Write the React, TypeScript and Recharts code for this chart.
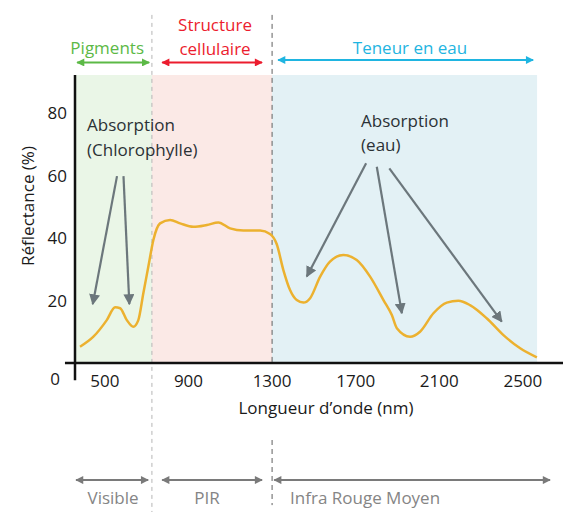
import React from 'react';
import {
  LineChart,
  Line,
  XAxis,
  YAxis,
  ReferenceArea,
  ReferenceLine,
  ReferenceDot,
} from 'recharts';

// reflectance spectrum of a leaf
const wavelengthNm = [
  381, 445, 509, 549, 573, 605, 636, 660, 684, 708, 732, 764, 812, 860, 923, 988, 1043, 1099,
  1163, 1243, 1290, 1322, 1354, 1386, 1418, 1450, 1482, 1530, 1577, 1641, 1705, 1769, 1833,
  1873, 1897, 1960, 2008, 2072, 2136, 2191, 2247, 2327, 2407, 2487, 2567,
];
const reflectancePct = [
  5.2, 8.4, 13.7, 17.8, 17.5, 13.7, 11.6, 13.7, 22.3, 30.8, 39.3, 44.6, 45.7, 44.6, 43.5, 44.1,
  44.9, 43.0, 42.3, 42.3, 41.2, 38, 29.7, 23.3, 20.1, 19.3, 20.7, 27.6, 32.4, 34.5, 32.9, 27.6,
  20.1, 15.3, 11.1, 8.4, 10, 15.9, 19.3, 19.9, 18.5, 14.3, 8.9, 4.7, 1.8,
];

const xTicks = [500, 900, 1300, 1700, 2100, 2500];
const yTicks = [0, 20, 40, 60, 80];

const X_MIN = 357;
const X_MAX = 2692;
const Y_MAX = 92;

// shaded domains
const bandStarts = [X_MIN, 725, 1300];
const bandEnds = [725, 1300, 2568];
const bandFills = ['#eaf6e7', '#fbe9e6', '#e3f1f5'];

// labels above the plot
const topLabels = ['Pigments', 'Structure', 'cellulaire', 'Teneur en eau'];
const topLabelX = [511, 1027, 1027, 1960];
const topLabelY = [100.6, 108, 100.3, 100.6];
const topLabelColors = ['#5cb946', '#ec1c2e', '#ec1c2e', '#1fb5e1'];

const topArrowFrom = [367, 774, 1329];
const topArrowTo = [712, 1252, 2549];
const topArrowY = [96.0, 96.0, 96.8];
const topArrowColors = ['green', 'red', 'cyan'];

// labels below the plot
const bottomLabels = ['Visible', 'PIR', 'Infra Rouge Moyen'];
const bottomLabelX = [539, 989, 1745];
const bottomArrowFrom = [362, 774, 1310];
const bottomArrowTo = [707, 1252, 2630];

// absorption call-outs
const noteLines = ['Absorption', '(Chlorophylle)', 'Absorption', '(eau)'];
const noteX = [415, 415, 1726, 1726];
const noteY = [76.0, 68.0, 77.3, 69.6];

const pointerFrom = [
  { x: 558, y: 59.7 },
  { x: 589, y: 59.7 },
  { x: 1750, y: 63.8 },
  { x: 1801, y: 62.7 },
  { x: 1861, y: 62.2 },
];
const pointerTo = [
  { x: 442, y: 18.8 },
  { x: 617, y: 18.8 },
  { x: 1466, y: 27.6 },
  { x: 1921, y: 15.9 },
  { x: 2399, y: 13.2 },
];

const data = wavelengthNm.map((nm, i) => ({ nm, r: reflectancePct[i] }));

const markerColors: Record<string, string> = {
  green: '#5cb946',
  red: '#ec1c2e',
  cyan: '#1fb5e1',
  grey: '#7a7a7a',
  slate: '#6c777c',
};

const FONT = "'Open Sans', 'Noto Sans', sans-serif";

const YTick = (props: any) => {
  const { x, y, payload } = props;
  if (payload.value === 0) {
    return (
      <text x={x - 7} y={y + 15} textAnchor="end" dominantBaseline="central" fontSize={17} fill="#1a1a1a">
        0
      </text>
    );
  }
  return (
    <text x={x} y={y} textAnchor="end" dominantBaseline="central" fontSize={17} fill="#1a1a1a">
      {payload.value}
    </text>
  );
};

export default function App() {
  return (
    <div style={{ width: 563, height: 512, fontFamily: FONT, position: 'relative' }}>
      <style>{'body{margin:0}'}</style>
      <svg width={0} height={0} style={{ position: 'absolute' }}>
        <defs>
          {Object.keys(markerColors).map((id) => (
            <marker
              key={id}
              id={`ah-${id}`}
              viewBox="0 0 10 10"
              refX={9}
              refY={5}
              markerWidth={id === 'slate' ? 11 : 9}
              markerHeight={id === 'slate' ? 11 : 8}
              markerUnits="userSpaceOnUse"
              orient="auto-start-reverse"
            >
              <path d="M0,0 L10,5 L0,10 z" fill={markerColors[id]} />
            </marker>
          ))}
        </defs>
      </svg>
      <LineChart width={563} height={512} data={data} margin={{ top: 75, right: 0, bottom: 119, left: 15 }}>
        {bandStarts.map((s, i) => (
          <ReferenceArea
            key={`band-${i}`}
            x1={s}
            x2={bandEnds[i]}
            y1={0}
            y2={Y_MAX}
            fill={bandFills[i]}
            fillOpacity={1}
            stroke="none"
            ifOverflow="visible"
          />
        ))}
        <XAxis
          type="number"
          dataKey="nm"
          domain={[X_MIN, X_MAX]}
          ticks={xTicks}
          allowDataOverflow
          axisLine={false}
          tickLine={false}
          tickSize={0}
          tickMargin={12}
          height={30}
          tick={{ fontSize: 17, fill: '#1a1a1a' }}
        />
        <YAxis
          type="number"
          domain={[0, Y_MAX]}
          ticks={yTicks}
          allowDataOverflow
          axisLine={false}
          tickLine={false}
          tickSize={0}
          tickMargin={8}
          width={60}
          tick={<YTick />}
        />
        {/* domain separators */}
        <ReferenceLine
          segment={[{ x: 725, y: 111.2 }, { x: 725, y: -47.6 }]}
          stroke="#b5b5b5"
          strokeDasharray="4 4"
          ifOverflow="visible"
        />
        <ReferenceLine
          segment={[{ x: 1300, y: 111.2 }, { x: 1300, y: 0 }]}
          stroke="#5f5f5f"
          strokeDasharray="5 4"
          ifOverflow="visible"
        />
        <ReferenceLine
          segment={[{ x: 1300, y: -24.6 }, { x: 1300, y: -45.4 }]}
          stroke="#5f5f5f"
          strokeDasharray="5 4"
          ifOverflow="visible"
        />
        {/* axes */}
        <ReferenceLine
          segment={[{ x: 309, y: 0 }, { x: X_MAX, y: 0 }]}
          stroke="#111"
          strokeWidth={2.5}
          ifOverflow="visible"
        />
        <ReferenceLine
          segment={[{ x: X_MIN, y: Y_MAX }, { x: X_MIN, y: -5.5 }]}
          stroke="#111"
          strokeWidth={2.5}
          ifOverflow="visible"
        />
        <Line
          type="monotone"
          dataKey="r"
          stroke="#ecb12f"
          strokeWidth={2.5}
          dot={false}
          isAnimationActive={false}
        />
        {topArrowFrom.map((f, i) => (
          <ReferenceLine
            key={`ta-${i}`}
            segment={[{ x: f, y: topArrowY[i] }, { x: topArrowTo[i], y: topArrowY[i] }]}
            stroke={markerColors[topArrowColors[i]]}
            strokeWidth={2}
            markerStart={`url(#ah-${topArrowColors[i]})`}
            markerEnd={`url(#ah-${topArrowColors[i]})`}
            ifOverflow="visible"
          />
        ))}
        {bottomArrowFrom.map((f, i) => (
          <ReferenceLine
            key={`ba-${i}`}
            segment={[{ x: f, y: -37.4 }, { x: bottomArrowTo[i], y: -37.4 }]}
            stroke={markerColors.grey}
            strokeWidth={2}
            markerStart="url(#ah-grey)"
            markerEnd="url(#ah-grey)"
            ifOverflow="visible"
          />
        ))}
        {pointerFrom.map((p, i) => (
          <ReferenceLine
            key={`pt-${i}`}
            segment={[p, pointerTo[i]]}
            stroke={markerColors.slate}
            strokeWidth={2.2}
            markerEnd="url(#ah-slate)"
            ifOverflow="visible"
          />
        ))}
        {topLabels.map((t, i) => (
          <ReferenceDot
            key={`tl-${i}`}
            x={topLabelX[i]}
            y={topLabelY[i]}
            r={0}
            fill="none"
            stroke="none"
            ifOverflow="visible"
            label={{ value: t, position: 'center', fill: topLabelColors[i], fontSize: 17 }}
          />
        ))}
        {bottomLabels.map((t, i) => (
          <ReferenceDot
            key={`bl-${i}`}
            x={bottomLabelX[i]}
            y={-43.2}
            r={0}
            fill="none"
            stroke="none"
            ifOverflow="visible"
            label={{ value: t, position: 'center', fill: '#858585', fontSize: 17 }}
          />
        ))}
        {noteLines.map((t, i) => (
          <ReferenceDot
            key={`nt-${i}`}
            x={noteX[i]}
            y={noteY[i]}
            r={0}
            fill="none"
            stroke="none"
            ifOverflow="visible"
            label={{ value: t, position: 'right', offset: 0, fill: '#2b3135', fontSize: 17 }}
          />
        ))}
        <ReferenceDot
          x={1558}
          y={-14.4}
          r={0}
          fill="none"
          stroke="none"
          ifOverflow="visible"
          label={{ value: 'Longueur d’onde (nm)', position: 'center', fill: '#1a1a1a', fontSize: 17 }}
        />
      </LineChart>
      <div
        style={{
          position: 'absolute',
          left: 27,
          top: 206,
          transform: 'translate(-50%, -50%) rotate(-90deg)',
          whiteSpace: 'nowrap',
          fontSize: 17,
          color: '#1a1a1a',
        }}
      >
        Réflectance (%)
      </div>
    </div>
  );
}
